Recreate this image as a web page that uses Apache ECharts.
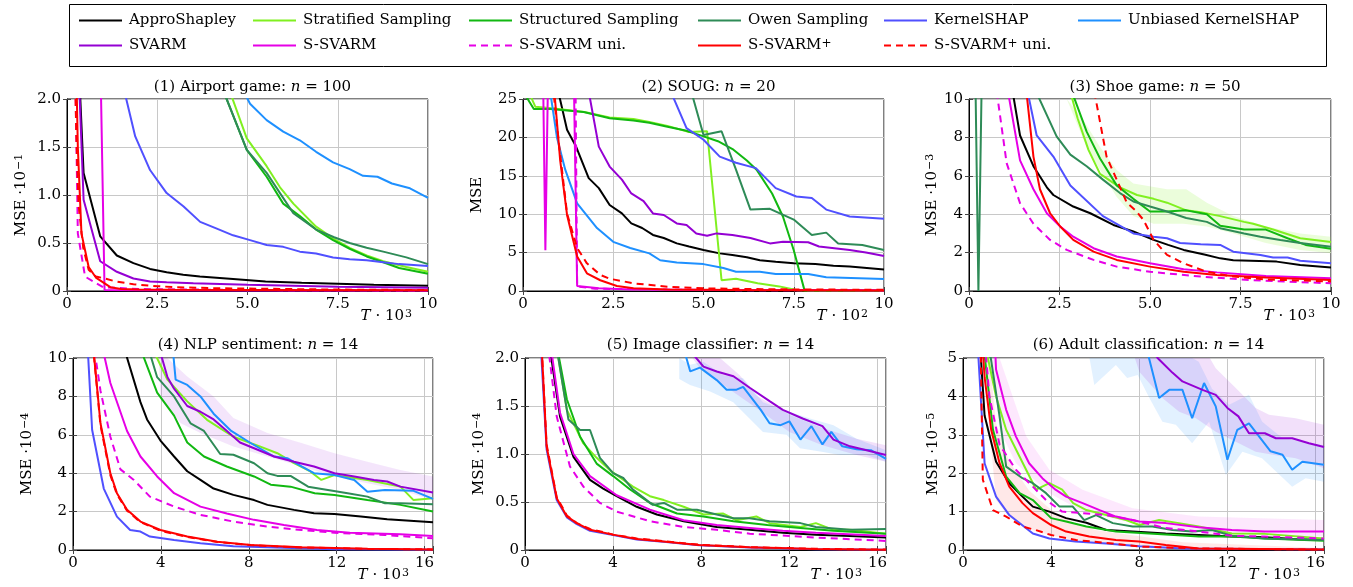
<!DOCTYPE html>
<html><head><meta charset="utf-8">
<script src="https://cdn.jsdelivr.net/npm/echarts@6/dist/echarts.min.js"></script>
<style>html,body{margin:0;padding:0;background:#fff}#c{width:1353px;height:587px}</style>
</head><body><div id="c"></div><script>
// ---------- series names / colours ----------
const seriesNames = ['ApproShapley','Stratified Sampling','Structured Sampling','Owen Sampling','KernelSHAP','Unbiased KernelSHAP','SVARM','S-SVARM','S-SVARM uni.','S-SVARM+','S-SVARM+ uni.'];
const seriesKeys  = ['appro','strat','struct','owen','kernel','unb','svarm','ssvarm','ssvarmUni','plus','plusUni'];
const seriesColors = ['#000000','#80f020','#11b811','#2e8b57','#5050ff','#1e90ff','#9400d3','#e600e6','#e600e6','#ff0000','#ff0000'];
const seriesDashed = [false,false,false,false,false,false,false,false,true,false,true];

// ---------- titles & tick labels ----------
const plotTitles = ['(1) Airport game: {i|n} = 100','(2) SOUG: {i|n} = 20','(3) Shoe game: {i|n} = 50','(4) NLP sentiment: {i|n} = 14','(5) Image classifier: {i|n} = 14','(6) Adult classification: {i|n} = 14'];
const yNames = ['MSE ·10{s|−1}','MSE','MSE ·10{s|−3}','MSE ·10{s|−4}','MSE ·10{s|−4}','MSE ·10{s|−5}'];
const xNames = ['{i|T} · 10{s|3}','{i|T} · 10{s|2}','{i|T} · 10{s|3}','{i|T} · 10{s|3}','{i|T} · 10{s|3}','{i|T} · 10{s|3}'];
const xTicksTop = [0,2.5,5,7.5,10];
const xLabelsTop = ['0','2.5','5.0','7.5','10'];
const xTicksBottom = [0,4,8,12,16];
const xLabelsBottom = ['0','4','8','12','16'];
const xMaxBottom = 16.384;
const yTicks1 = [0,0.5,1,1.5,2];   const yLabels1 = ['0','0.5','1.0','1.5','2.0'];
const yTicks2 = [0,5,10,15,20,25]; const yLabels2 = ['0','5','10','15','20','25'];
const yTicks3 = [0,2,4,6,8,10];    const yLabels3 = ['0','2','4','6','8','10'];
const yTicks4 = [0,2,4,6,8,10];    const yLabels4 = ['0','2','4','6','8','10'];
const yTicks5 = [0,0.5,1,1.5,2];   const yLabels5 = ['0','0.5','1.0','1.5','2.0'];
const yTicks6 = [0,1,2,3,4,5];     const yLabels6 = ['0','1','2','3','4','5'];

// ---------- (1) Airport game ----------
const p1_appro = [[0.25,3],[0.46,1.23],[0.92,0.57],[1.38,0.37],[1.84,0.29],[2.3,0.23],[2.76,0.195],[3.22,0.17],[3.68,0.15],[4.6,0.125],[5.5,0.1],[6.5,0.085],[7.5,0.075],[8.5,0.065],[10,0.055]];
const p1_strat = [[4.3,2.3],[4.98,1.59],[5.53,1.3],[5.9,1.08],[6.27,0.91],[6.9,0.67],[7.4,0.54],[7.83,0.45],[8.3,0.37],[8.76,0.31],[9.4,0.25],[10,0.2]];
const p1_struct = [[4.0,2.4],[4.98,1.47],[5.53,1.19],[5.99,0.91],[6.45,0.78],[6.9,0.64],[7.37,0.53],[7.83,0.44],[8.3,0.36],[8.76,0.3],[9.2,0.24],[10,0.18]];
const p1_owen = [[4.0,2.4],[4.98,1.47],[5.53,1.23],[5.9,1.02],[6.27,0.81],[6.9,0.64],[7.4,0.56],[7.83,0.5],[8.3,0.45],[8.76,0.41],[9.4,0.35],[10,0.28]];
const p1_kernel = [[1.45,2.3],[1.89,1.61],[2.3,1.26],[2.76,1.02],[3.23,0.88],[3.69,0.72],[4.15,0.65],[4.6,0.58],[5.07,0.53],[5.53,0.48],[5.99,0.46],[6.45,0.41],[6.9,0.39],[7.37,0.35],[7.83,0.33],[8.3,0.32],[8.76,0.3],[9.2,0.28],[10,0.26]];
const p1_unb = [[4.6,2.3],[5.07,1.95],[5.53,1.78],[5.99,1.66],[6.45,1.57],[6.9,1.45],[7.37,1.34],[7.83,1.27],[8.2,1.2],[8.6,1.19],[9.0,1.12],[9.5,1.07],[10,0.97]];
const p1_svarm = [[0.25,3],[0.46,0.95],[0.92,0.31],[1.38,0.2],[1.84,0.13],[2.3,0.1],[2.76,0.09],[3.5,0.08],[5,0.065],[7.5,0.045],[10,0.035]];
const p1_ssvarm = [[0.92,2.5],[1.04,0.01],[2,0.008],[5,0.006],[10,0.004]];
const p1_ssvarmUni = [[0.2,3],[0.3,0.6],[0.5,0.15],[1,0.04],[2,0.02],[5,0.01],[10,0.005]];
const p1_plus = [[0.22,3],[0.3,1.5],[0.4,0.6],[0.6,0.25],[0.8,0.14],[1,0.09],[1.2,0.04],[1.5,0.02],[2,0.015],[3,0.012],[5,0.01],[10,0.008]];
const p1_plusUni = [[0.18,3],[0.26,1.6],[0.32,0.9],[0.45,0.45],[0.6,0.22],[0.8,0.15],[1.0,0.135],[1.34,0.1],[1.84,0.07],[2.5,0.05],[3,0.04],[4,0.03],[5,0.025],[7.5,0.015],[10,0.01]];

// ---------- (2) SOUG ----------
const p2_appro = [[1.0,25.5],[1.22,21],[1.47,18.8],[1.82,14.7],[2.1,13.4],[2.4,11.2],[2.74,10.1],[3.0,8.8],[3.3,8.2],[3.6,7.3],[3.9,6.9],[4.26,6.2],[4.6,5.8],[5.0,5.35],[5.45,4.9],[5.8,4.7],[6.2,4.4],[6.56,4.0],[7.0,3.8],[7.5,3.6],[8.1,3.5],[8.6,3.3],[9.05,3.2],[10,2.8]];
const p2_strat = [[0.2,25.5],[0.34,24],[0.8,23.8],[1.7,23.3],[2.4,22.6],[3.06,22.4],[3.5,22.0],[4.0,21.5],[4.6,20.7],[5.1,20.8],[5.5,1.4],[5.9,1.6],[6.5,1.0],[7.1,0.6],[7.6,0.1],[8,0.05],[10,0.05]];
const p2_struct = [[0,26],[0.3,23.7],[0.76,23.7],[1.68,23.3],[2.4,22.5],[3.06,22.2],[3.5,21.9],[4.0,21.4],[4.5,20.9],[4.9,20.3],[5.4,19.5],[5.83,18.4],[6.2,17.0],[6.47,15.8],[6.9,12.7],[7.2,9.7],[7.5,5.3],[7.8,0.05],[10,0.05]];
const p2_owen = [[4.6,27],[5.0,20.3],[5.5,20.8],[5.9,15.8],[6.3,10.6],[6.84,10.7],[7.5,9.3],[8.0,7.3],[8.4,7.6],[8.73,6.2],[9.4,6.0],[10,5.35]];
const p2_kernel = [[4.0,27],[4.53,21.2],[5.0,19.7],[5.45,17.5],[5.9,16.7],[6.45,16.0],[7.0,13.4],[7.57,12.3],[8.0,12.1],[8.4,10.6],[9.05,9.7],[10,9.4]];
const p2_unb = [[0.72,27],[0.94,20],[1.17,15.8],[1.5,11.4],[2.05,8.2],[2.5,6.4],[2.97,5.6],[3.5,4.9],[3.8,4.0],[4.26,3.7],[5.0,3.5],[5.55,3.0],[5.9,2.5],[6.56,2.5],[7.0,2.2],[7.9,2.2],[8.4,1.8],[10,1.57]];
const p2_svarm = [[1.78,27],[2.1,18.8],[2.4,16.2],[2.74,14.5],[3.0,12.7],[3.34,11.7],[3.6,10.1],[3.9,9.9],[4.26,8.8],[4.53,8.6],[4.8,7.5],[5.1,7.2],[5.36,7.5],[5.8,7.3],[6.3,6.9],[6.84,6.2],[7.2,6.4],[7.9,6.35],[8.2,5.8],[9.05,5.35],[9.5,5.0],[10,4.55]];
const p2_ssvarm = [[0.55,30],[0.62,5.3],[0.7,30],[1.4,30],[1.5,0.65],[2.1,0.35],[3,0.2],[5,0.15],[10,0.1]];
const p2_ssvarmUni = [[1.45,30],[1.5,0.6],[2,0.3],[5,0.12],[10,0.08]];
const p2_plus = [[0.85,27],[1.03,17],[1.22,9.9],[1.5,4.5],[1.77,2.3],[2.14,1.4],[2.6,0.65],[3.06,0.35],[4,0.2],[6,0.12],[10,0.08]];
const p2_plusUni = [[0.82,27],[1.0,19],[1.22,10.1],[1.5,5.6],[1.77,3.6],[2.14,2.1],[2.4,1.6],[3.06,1.0],[4.0,0.55],[5.0,0.35],[7,0.22],[10,0.15]];

// ---------- (3) Shoe game ----------
const p3_appro = [[1.15,11],[1.41,8.1],[1.78,6.5],[2.15,5.4],[2.33,5.0],[2.88,4.4],[3.35,4.05],[3.99,3.44],[4.54,3.1],[5.1,2.66],[5.5,2.4],[5.93,2.14],[6.5,1.9],[6.94,1.7],[7.3,1.6],[8.5,1.53],[9.15,1.36],[10,1.23]];
const p3_strat = [[2.78,10.5],[3.0,9.0],[3.3,7.35],[3.62,6.1],[4.17,5.4],[4.64,5.0],[5.1,4.8],[5.47,4.6],[6.0,4.2],[6.4,4.1],[6.94,3.9],[7.6,3.6],[7.85,3.5],[8.4,3.2],[9.15,2.75],[10,2.55]];
const p3_struct = [[2.8,10.6],[3.25,8.3],[3.62,6.9],[4.08,5.5],[4.54,4.8],[5.0,4.14],[5.47,4.14],[6.0,4.2],[6.57,4.0],[6.94,3.4],[7.6,3.2],[8.2,3.2],[8.8,2.75],[9.3,2.4],[10,2.2]];
const p3_owen = [[0.17,12],[0.26,0],[0.36,12],[1.8,10.6],[2.42,8.05],[2.8,7.1],[3.25,6.5],[3.7,5.8],[4.17,5.1],[4.54,4.66],[5.0,4.4],[5.47,4.14],[6.0,3.8],[6.57,3.6],[6.94,3.27],[7.6,3.0],[8.05,2.83],[8.6,2.66],[9.15,2.5],[10,2.3]];
const p3_kernel = [[1.55,11],[1.87,8.1],[2.33,7.0],[2.8,5.5],[3.7,3.9],[4.54,3.0],[5.1,2.83],[5.47,2.75],[5.83,2.5],[6.4,2.43],[6.94,2.4],[7.3,2.05],[8.05,1.88],[8.4,1.74],[8.8,1.74],[9.15,1.58],[10,1.44]];
const p3_ssvarm = [[1.02,11],[1.41,6.8],[1.78,5.3],[2.15,4.05],[2.52,3.36],[2.88,2.83],[3.44,2.23],[4.08,1.8],[5.0,1.44],[5.93,1.13],[6.85,0.97],[8.2,0.78],[10,0.66]];
const p3_ssvarmUni = [[0.72,11],[1.04,6.66],[1.41,4.57],[1.78,3.5],[2.24,2.66],[2.7,2.14],[3.44,1.62],[4.08,1.27],[5.0,1.0],[6.4,0.75],[7.77,0.57],[10,0.4]];
const p3_plus = [[1.55,11],[1.78,7.0],[1.96,5.3],[2.24,4.05],[2.52,3.36],[2.88,2.66],[3.44,2.05],[4.08,1.62],[5.0,1.27],[5.93,1.0],[6.85,0.83],[8.2,0.7],[10,0.57]];
const p3_plusUni = [[3.4,11],[3.8,7.0],[4.08,5.8],[4.36,4.6],[4.6,4.2],[4.82,3.7],[5.1,2.66],[5.47,1.88],[5.93,1.44],[6.57,1.0],[7.3,0.75],[8.2,0.6],[10,0.5]];

// ---------- (4) NLP sentiment ----------
const p4_appro = [[2.2,11],[3.07,7.7],[3.37,6.8],[3.98,5.7],[4.6,4.87],[5.2,4.1],[5.8,3.65],[6.4,3.2],[7.3,2.87],[8.24,2.6],[8.85,2.35],[10.06,2.09],[10.97,1.91],[11.9,1.88],[13.1,1.74],[14.3,1.6],[16.384,1.44]];
const p4_strat = [[3.4,11],[4.3,8.87],[5.2,7.74],[6.1,6.78],[7.3,5.9],[8.5,5.4],[9.3,5.04],[10.06,4.52],[10.8,4.09],[11.3,3.65],[11.9,3.9],[13.4,3.65],[14.9,3.3],[15.5,2.6],[16.384,2.7]];
const p4_struct = [[2.9,11],[3.83,8.2],[4.6,7.0],[5.2,5.6],[5.96,4.87],[7.0,4.35],[8.24,3.83],[9.0,3.4],[9.9,3.3],[11.0,2.96],[11.9,2.87],[13.4,2.6],[14.9,2.35],[16.384,2.0]];
const p4_owen = [[3.3,11],[3.83,9.0],[4.6,8.0],[5.35,6.6],[5.96,6.2],[6.7,5.0],[7.3,4.96],[8.24,4.52],[8.85,4.0],[9.3,3.86],[9.9,3.86],[10.7,3.3],[11.6,3.13],[12.5,2.96],[13.4,2.78],[14.2,2.43],[14.9,2.43],[16.384,2.38]];
const p4_kernel = [[0.6,12],[0.87,6.26],[1.4,3.2],[2.0,1.74],[2.6,1.04],[3.07,0.96],[3.5,0.7],[4.6,0.52],[5.8,0.35],[7.3,0.2],[8.85,0.14],[11.9,0.04],[16.384,0.01]];
const p4_unb = [[4.5,11],[4.67,8.87],[5.2,8.6],[5.8,8.0],[6.4,7.1],[7.2,6.2],[8.1,5.56],[9.15,4.87],[9.75,4.78],[10.4,4.35],[10.97,4.0],[11.9,3.9],[12.8,3.65],[13.4,3.04],[14.2,3.13],[15.5,3.08],[16.384,2.66]];
const p4_svarm = [[3.8,11],[4.3,9.0],[4.6,8.4],[5.2,7.5],[5.8,7.2],[6.4,6.8],[7.2,6.0],[7.6,5.6],[8.24,5.3],[9.15,4.87],[10.06,4.6],[10.97,4.35],[11.9,4.0],[12.8,3.83],[13.7,3.65],[14.3,3.57],[14.9,3.3],[16.384,3.0]];
const p4_ssvarm = [[1.25,11],[1.7,8.7],[2.46,6.2],[3.07,4.87],[3.83,3.83],[4.6,2.96],[5.8,2.26],[7.0,1.9],[8.24,1.57],[9.6,1.3],[11.1,1.04],[12.6,0.9],[14.9,0.82],[16.384,0.73]];
const p4_ssvarmUni = [[0.9,11],[1.25,8.3],[1.7,5.9],[2.16,4.2],[2.77,3.65],[3.5,2.78],[4.6,2.26],[5.8,1.83],[7.3,1.48],[8.85,1.22],[10.4,1.04],[11.9,0.9],[14.2,0.78],[16.384,0.61]];
const p4_plus = [[0.8,12],[1.25,6.6],[1.7,4.0],[2.0,2.96],[2.46,2.1],[3.07,1.48],[3.98,1.04],[5.2,0.7],[6.57,0.43],[8.1,0.26],[10.4,0.14],[13.4,0.07],[16.384,0.03]];
const p4_plusUni = [[0.8,12],[1.25,6.5],[1.7,3.9],[2.0,2.9],[2.46,2.05],[3.07,1.45],[3.98,1.0],[5.2,0.68],[6.57,0.42],[8.1,0.25],[10.4,0.13],[13.4,0.06],[16.384,0.03]];

// ---------- (5) Image classifier ----------
const p5_appro = [[1.0,2.3],[1.59,1.39],[2.2,0.97],[2.95,0.73],[3.55,0.64],[4.16,0.56],[5.07,0.45],[5.98,0.37],[7.2,0.3],[8.7,0.24],[10.2,0.21],[11.7,0.18],[13.2,0.16],[14.75,0.146],[16.384,0.13]];
const p5_strat = [[1.3,2.3],[1.9,1.46],[2.65,1.11],[3.25,0.96],[3.86,0.83],[4.9,0.66],[5.67,0.56],[6.3,0.52],[7.2,0.45],[8.1,0.37],[9.0,0.38],[9.6,0.31],[10.5,0.35],[11.1,0.28],[12.5,0.24],[13.2,0.28],[14.0,0.21],[14.75,0.21],[16.384,0.17]];
const p5_struct = [[1.3,2.3],[1.9,1.57],[2.5,1.18],[3.25,0.9],[4.0,0.77],[4.77,0.63],[5.67,0.49],[6.9,0.38],[8.1,0.35],[9.46,0.3],[11.0,0.26],[12.5,0.23],[14.0,0.2],[16.384,0.17]];
const p5_owen = [[1.3,2.3],[1.97,1.36],[2.5,1.25],[2.95,1.25],[3.4,0.96],[4.0,0.8],[4.46,0.75],[4.9,0.63],[5.8,0.47],[6.3,0.49],[6.9,0.42],[7.8,0.42],[8.7,0.37],[9.46,0.33],[10.2,0.33],[11.1,0.3],[12.5,0.28],[13.2,0.24],[14.75,0.21],[16.384,0.22]];
const p5_kernel = [[0.6,2.6],[0.98,1.05],[1.44,0.52],[1.9,0.34],[2.35,0.27],[2.95,0.2],[4.0,0.155],[5.07,0.11],[6.4,0.083],[7.9,0.05],[10.2,0.026],[13.2,0.009],[16.384,0.002]];
const p5_unb = [[7.2,2.1],[7.5,1.86],[7.94,1.9],[8.7,1.77],[9.15,1.67],[9.6,1.67],[9.9,1.7],[10.7,1.46],[11.1,1.32],[11.6,1.3],[12.0,1.34],[12.5,1.15],[13.0,1.29],[13.5,1.1],[13.9,1.23],[14.4,1.08],[15.05,1.05],[15.7,1.04],[16.384,0.95]];
const p5_svarm = [[7.4,2.1],[8.1,1.91],[8.7,1.86],[9.46,1.81],[10.2,1.69],[11.1,1.55],[11.7,1.46],[12.6,1.37],[13.5,1.29],[14.0,1.15],[14.75,1.08],[15.5,1.04],[16.384,0.99]];
const p5_ssvarm = [[1.0,2.4],[1.59,1.43],[2.2,1.0],[2.95,0.77],[4.16,0.57],[5.67,0.42],[7.2,0.31],[8.7,0.26],[10.2,0.23],[11.7,0.2],[13.2,0.18],[16.384,0.146]];
const p5_ssvarmUni = [[0.9,2.4],[1.44,1.39],[2.04,0.87],[2.65,0.66],[3.4,0.49],[4.16,0.4],[5.67,0.3],[7.2,0.24],[8.7,0.21],[10.2,0.17],[11.7,0.15],[13.2,0.13],[16.384,0.094]];
const p5_plus = [[0.65,2.6],[0.98,1.08],[1.44,0.54],[1.9,0.35],[2.35,0.28],[2.95,0.21],[4.0,0.16],[5.07,0.115],[6.4,0.087],[7.9,0.052],[10.2,0.028],[13.2,0.01],[16.384,0.003]];
const p5_plusUni = [[0.65,2.6],[0.98,1.1],[1.44,0.55],[1.9,0.36],[2.35,0.28],[2.95,0.22],[4.0,0.16],[5.07,0.12],[6.4,0.09],[7.9,0.055],[10.2,0.03],[13.2,0.012],[16.384,0.004]];

// ---------- (6) Adult classification ----------
const p6_appro = [[0.7,6],[0.98,3.5],[1.5,2.3],[2.1,1.74],[2.7,1.39],[3.17,1.13],[3.92,1.0],[4.68,0.83],[5.6,0.71],[6.5,0.52],[7.7,0.48],[9.2,0.43],[10.7,0.39],[12.2,0.35],[13.7,0.33],[15.2,0.28],[16.384,0.26]];
const p6_strat = [[0.9,6],[1.13,5],[1.5,4.0],[1.96,3.13],[2.57,2.43],[3.32,1.57],[3.92,1.74],[4.5,1.57],[5.0,1.22],[5.6,1.04],[6.5,0.91],[7.4,0.78],[8.0,0.65],[8.9,0.78],[9.8,0.7],[10.7,0.61],[12.2,0.43],[13.7,0.42],[16.384,0.3]];
const p6_struct = [[0.8,6],[1.36,3.13],[1.96,1.91],[2.57,1.48],[3.17,1.3],[4.0,0.83],[4.68,0.74],[5.6,0.61],[6.94,0.48],[8.45,0.43],[10.7,0.35],[12.2,0.35],[13.7,0.3],[16.384,0.24]];
const p6_owen = [[1.0,6],[1.66,3.48],[1.96,2.17],[2.7,1.87],[3.17,1.74],[3.77,1.48],[4.38,1.13],[4.98,1.13],[5.5,0.78],[6.04,0.91],[6.8,0.7],[7.7,0.61],[8.6,0.61],[9.5,0.52],[10.4,0.48],[11.3,0.52],[12.2,0.37],[13.7,0.3],[16.384,0.26]];
const p6_kernel = [[0.6,6],[0.98,2.26],[1.5,1.39],[2.1,0.91],[3.17,0.43],[3.92,0.3],[5.1,0.22],[6.5,0.17],[8.0,0.1],[10.0,0.04],[16.384,0.01]];
const p6_unb = [[8.0,6],[8.9,3.96],[9.36,4.17],[9.96,4.17],[10.4,3.43],[10.94,4.35],[11.47,3.74],[12.0,2.35],[12.45,3.13],[12.98,3.3],[13.96,2.57],[14.5,2.48],[14.94,2.09],[15.4,2.3],[16.384,2.22]];
const p6_svarm = [[8.5,5.3],[8.83,5.0],[9.5,4.62],[9.96,4.39],[10.87,4.17],[11.47,4.04],[12.0,3.7],[12.5,3.48],[12.98,3.04],[13.7,3.04],[14.2,2.91],[14.94,2.91],[15.7,2.78],[16.384,2.68]];
const p6_ssvarm = [[1.4,6],[1.5,4.7],[1.96,3.65],[2.4,2.96],[3.0,2.26],[3.6,1.87],[4.2,1.57],[4.68,1.39],[5.43,1.22],[6.2,1.04],[6.94,0.87],[8.0,0.74],[9.2,0.7],[10.7,0.59],[12.2,0.52],[13.7,0.48],[16.384,0.48]];
const p6_ssvarmUni = [[0.9,6],[1.2,4],[1.66,2.74],[2.4,2.09],[3.17,1.65],[3.77,1.3],[4.5,1.0],[5.43,0.96],[6.5,0.91],[7.7,0.78],[9.2,0.57],[10.7,0.48],[12.2,0.37],[13.7,0.35],[16.384,0.3]];
const p6_plus = [[0.8,6],[0.98,4.5],[1.28,3.13],[1.66,2.26],[2.1,1.65],[2.7,1.22],[3.17,0.96],[4.0,0.65],[4.68,0.48],[5.73,0.35],[6.94,0.26],[8.0,0.22],[9.2,0.13],[10.7,0.04],[16.384,0.01]];
const p6_plusUni = [[0.78,6],[0.9,1.83],[1.36,1.04],[1.96,0.87],[2.7,0.61],[3.3,0.52],[4.0,0.39],[5.13,0.26],[6.8,0.17],[8.0,0.09],[10.7,0.04],[16.384,0.01]];

// ---------- confidence bands (lower / upper edges) ----------
const p3_stratLo = [[3.25,7.5],[3.62,6.3],[4.08,4.9],[4.54,3.9],[5.1,3.5],[5.93,3.5],[6.57,3.36],[7.3,3.0],[8.2,2.5],[9.15,2.14],[10,1.97]];
const p3_stratHi = [[2.7,10],[3.16,8.9],[3.62,7.5],[4.08,6.3],[4.54,5.6],[5.47,5.3],[6.0,5.3],[6.57,4.6],[7.3,3.9],[8.2,3.36],[9.15,3.0],[10,2.83]];
const p4_svarmLo = [[3.9,10],[3.98,8.0],[4.9,6.6],[5.8,6.09],[7.3,5.39],[8.85,4.87],[10.4,4.35],[11.9,3.83],[13.4,3.48],[14.9,3.13],[16.384,2.6]];
const p4_svarmHi = [[3.9,10],[4.29,10],[5.2,9.04],[6.4,8.0],[7.3,6.87],[8.85,6.09],[10.4,5.57],[11.9,5.04],[13.4,4.6],[14.9,4.17],[16.384,3.83]];
const p5_unbLo = [[7.0,1.78],[7.49,1.72],[8.4,1.65],[9.45,1.54],[10.8,1.23],[11.87,1.2],[12.48,1.06],[13.53,1.02],[14.28,0.99],[15.5,0.99],[16.384,0.92]];
const p5_unbHi = [[7.0,2.0],[7.49,1.93],[8.09,1.96],[9.0,1.82],[9.9,1.79],[10.8,1.54],[12.0,1.44],[12.93,1.37],[14.0,1.3],[15.05,1.16],[16.384,1.04]];
const p5_svarmLo = [[7.6,2.0],[7.94,1.89],[9.0,1.72],[10.5,1.48],[12.0,1.23],[13.5,1.09],[15.05,0.99],[16.384,0.92]];
const p5_svarmHi = [[7.6,2.0],[8.85,2.0],[9.75,1.82],[10.5,1.61],[12.0,1.41],[13.5,1.27],[15.05,1.16],[16.384,1.09]];
const p6_unbLo = [[5.74,5],[5.96,4.3],[6.94,4.82],[7.45,4.48],[7.93,4.56],[8.46,3.96],[9.05,3.34],[9.66,3.26],[10.4,2.78],[11.17,3.34],[11.93,1.95],[12.68,2.56],[13.57,2.39],[14.94,1.65],[15.55,1.87],[16.384,1.78]];
const p6_unbHi = [[5.74,5],[10.4,5],[10.7,4.9],[11.3,4.2],[12.08,3.78],[12.98,4.04],[13.58,3.34],[14.48,2.92],[15.4,2.82],[16.384,2.73]];
const p6_svarmLo = [[7.8,5],[8.0,4.64],[9.06,3.95],[9.81,3.6],[10.57,3.43],[11.47,3.08],[12.38,2.82],[13.28,2.56],[14.19,2.47],[15.1,2.39],[16.384,2.13]];
const p6_svarmHi = [[7.8,5],[11.2,5],[11.47,4.73],[12.38,4.22],[13.28,3.7],[13.89,3.52],[15.1,3.43],[16.384,3.26]];
const p6_ssvarmLo = [[1.3,5],[1.66,3.13],[2.4,2.26],[3.92,1.48],[5.43,1.0],[7.7,0.7],[10.7,0.43],[16.384,0.35]];
const p6_ssvarmHi = [[1.3,5],[1.66,5],[2.87,2.96],[3.92,2.09],[5.43,1.57],[7.7,1.09],[10.7,0.87],[16.384,0.78]];
const p6_plusLo = [[0.9,5],[1.5,1.3],[2.1,0.85],[3.0,0.55],[4.0,0.38],[5.0,0.27],[6.0,0.19],[8.0,0.1],[10.0,0.03],[16.384,0.0]];
const p6_plusHi = [[0.9,5],[1.2,5],[1.5,3.3],[2.1,2.3],[3.0,1.55],[4.0,1.05],[5.0,0.72],[6.0,0.52],[8.0,0.36],[10.0,0.2],[16.384,0.05]];

const bandDefs = [
  {plot:2, color:'#80f020', opacity:0.16, lo:p3_stratLo, hi:p3_stratHi},
  {plot:3, color:'#9400d3', opacity:0.10, lo:p4_svarmLo, hi:p4_svarmHi},
  {plot:4, color:'#1e90ff', opacity:0.14, lo:p5_unbLo, hi:p5_unbHi},
  {plot:4, color:'#9400d3', opacity:0.12, lo:p5_svarmLo, hi:p5_svarmHi},
  {plot:5, color:'#1e90ff', opacity:0.13, lo:p6_unbLo, hi:p6_unbHi},
  {plot:5, color:'#9400d3', opacity:0.12, lo:p6_svarmLo, hi:p6_svarmHi},
  {plot:5, color:'#e600e6', opacity:0.09, lo:p6_ssvarmLo, hi:p6_ssvarmHi},
  {plot:5, color:'#ff0000', opacity:0.09, lo:p6_plusLo, hi:p6_plusHi}
];

// ---------- assemble ----------
const plotData = [
  {appro:p1_appro,strat:p1_strat,struct:p1_struct,owen:p1_owen,kernel:p1_kernel,unb:p1_unb,svarm:p1_svarm,ssvarm:p1_ssvarm,ssvarmUni:p1_ssvarmUni,plus:p1_plus,plusUni:p1_plusUni},
  {appro:p2_appro,strat:p2_strat,struct:p2_struct,owen:p2_owen,kernel:p2_kernel,unb:p2_unb,svarm:p2_svarm,ssvarm:p2_ssvarm,ssvarmUni:p2_ssvarmUni,plus:p2_plus,plusUni:p2_plusUni},
  {appro:p3_appro,strat:p3_strat,struct:p3_struct,owen:p3_owen,kernel:p3_kernel,ssvarm:p3_ssvarm,ssvarmUni:p3_ssvarmUni,plus:p3_plus,plusUni:p3_plusUni},
  {appro:p4_appro,strat:p4_strat,struct:p4_struct,owen:p4_owen,kernel:p4_kernel,unb:p4_unb,svarm:p4_svarm,ssvarm:p4_ssvarm,ssvarmUni:p4_ssvarmUni,plus:p4_plus,plusUni:p4_plusUni},
  {appro:p5_appro,strat:p5_strat,struct:p5_struct,owen:p5_owen,kernel:p5_kernel,unb:p5_unb,svarm:p5_svarm,ssvarm:p5_ssvarm,ssvarmUni:p5_ssvarmUni,plus:p5_plus,plusUni:p5_plusUni},
  {appro:p6_appro,strat:p6_strat,struct:p6_struct,owen:p6_owen,kernel:p6_kernel,unb:p6_unb,svarm:p6_svarm,ssvarm:p6_ssvarm,ssvarmUni:p6_ssvarmUni,plus:p6_plus,plusUni:p6_plusUni}
];
const yTickSets = [[yTicks1,yLabels1],[yTicks2,yLabels2],[yTicks3,yLabels3],[yTicks4,yLabels4],[yTicks5,yLabels5],[yTicks6,yLabels6]];

// layout (pixels)
const gridBoxes = [
  {left:67, top:99, width:361, height:192},
  {left:523,top:99, width:361, height:192},
  {left:969,top:99, width:362, height:192},
  {left:73, top:358,width:360, height:192},
  {left:525,top:358,width:361, height:192},
  {left:963,top:358,width:361, height:192}
];
const yNameGaps = [38,38,22,38,38,22];
const titleTops = [75,75,75,333,333,333];

const FONT = 'DejaVu Serif';
const FS = 15;
function lab(ticks, labels){
  return function(v){
    for (let i=0;i<ticks.length;i++) if (Math.abs(v-ticks[i])<1e-6) return labels[i];
    return '';
  };
}
const richBase = {
  i:{fontStyle:'italic',fontFamily:FONT,fontSize:FS,color:'#000'},
  s:{fontFamily:FONT,fontSize:11,color:'#000',verticalAlign:'top',lineHeight:12,padding:[0,0,0,1]}
};
const tickStyle = {show:true,inside:true,length:4,lineStyle:{color:'#444',width:1}};

const grids=[], xAxes=[], yAxes=[], titles=[], series=[];
gridBoxes.forEach((g,p)=>{
  grids.push(Object.assign({show:true,borderColor:'#000',borderWidth:1,backgroundColor:'transparent',containLabel:false}, g));
  titles.push({
    text: plotTitles[p], left: g.left + g.width/2, top: titleTops[p], textAlign:'center',
    textStyle:{fontFamily:FONT,fontSize:FS,fontWeight:'normal',color:'#000',rich:richBase}
  });
});
// main axes (index p) then mirror axes (index 6+p)
gridBoxes.forEach((g,p)=>{
  const top = p<3;
  const xt = top ? xTicksTop : xTicksBottom;
  const xl = top ? xLabelsTop : xLabelsBottom;
  xAxes.push({
    type:'value', gridIndex:p, min:xt[0], max: top ? xt[xt.length-1] : xMaxBottom, interval: xt[1]-xt[0],
    name: xNames[p], nameLocation:'end', nameGap: top ? -16 : -24,
    nameTextStyle:{fontFamily:FONT,fontSize:FS,color:'#000',align:'right',verticalAlign:'top',padding:[18,0,0,0],rich:richBase},
    axisLine:{show:true,lineStyle:{color:'#000',width:1}},
    axisTick:tickStyle,
    axisLabel:{fontFamily:FONT,fontSize:FS,color:'#000',margin:6,formatter:lab(xt,xl)},
    splitLine:{show:true,lineStyle:{color:'#c8c8c8',width:1}}
  });
  const [yt,yl] = yTickSets[p];
  yAxes.push({
    type:'value', gridIndex:p, min:yt[0], max:yt[yt.length-1], interval:yt[1]-yt[0],
    name: yNames[p], nameLocation:'middle', nameRotate:90, nameGap:yNameGaps[p],
    nameTextStyle:{fontFamily:FONT,fontSize:FS,color:'#000',rich:richBase},
    axisLine:{show:true,lineStyle:{color:'#000',width:1}},
    axisTick:tickStyle,
    axisLabel:{fontFamily:FONT,fontSize:FS,color:'#000',margin:6,formatter:lab(yt,yl)},
    splitLine:{show:true,lineStyle:{color:'#c8c8c8',width:1}}
  });
});
gridBoxes.forEach((g,p)=>{
  const top = p<3;
  const xt = top ? xTicksTop : xTicksBottom;
  const [yt] = yTickSets[p];
  xAxes.push({type:'value', gridIndex:p, position:'top', min:xt[0], max: top ? xt[xt.length-1] : xMaxBottom, interval: xt[1]-xt[0],
    axisLine:{show:false}, axisTick:tickStyle, axisLabel:{show:false}, splitLine:{show:false}});
  yAxes.push({type:'value', gridIndex:p, position:'right', min:yt[0], max:yt[yt.length-1], interval:yt[1]-yt[0],
    axisLine:{show:false}, axisTick:tickStyle, axisLabel:{show:false}, splitLine:{show:false}});
});

// bands (custom polygons through the axes' scales)
bandDefs.forEach(b=>{
  const poly = b.hi.concat(b.lo.slice().reverse());
  series.push({
    type:'custom', xAxisIndex:b.plot, yAxisIndex:b.plot, data:[0], silent:true, z:1, animation:false,
    renderItem:(params, api)=>({type:'polygon', shape:{points: poly.map(pt=>api.coord(pt))},
      style:{fill:b.color, opacity:b.opacity, stroke:'none'}})
  });
});

gridBoxes.forEach((g,p)=>{
  seriesKeys.forEach((k,si)=>{
    const d = plotData[p][k];
    if (!d) return;
    series.push({
      type:'line', name: seriesNames[si], xAxisIndex:p, yAxisIndex:p, data:d,
      symbol:'none', showSymbol:false, clip:true, animation:false, z: 2+si*0.01,
      lineStyle:{color:seriesColors[si], width:2, type: seriesDashed[si] ? [7,5] : 'solid'},
      itemStyle:{color:seriesColors[si]}
    });
  });
});

// legends positioned as a table
const legendCols = [78,252,468,697,883,1077];
const legendRows = [13,38];
const legendCells = [[0,0],[0,1],[0,2],[0,3],[0,4],[0,5],[1,0],[1,1],[1,2],[1,3],[1,4]];
const legends = seriesNames.map((n,i)=>({
  data:[n], left: legendCols[legendCells[i][1]], top: legendRows[legendCells[i][0]],
  padding:0, itemWidth:43, itemHeight:14, itemGap:0, selectedMode:false,
  itemStyle:{opacity:0},
  textStyle:{fontFamily:FONT,fontSize:FS,color:'#000',padding:[0,0,0,2],rich:{s:{fontFamily:FONT,fontSize:12,color:'#000',verticalAlign:'top',lineHeight:10}}},
  formatter: nm => nm.replace('+','{s|+}')
}));

const chart = echarts.init(document.getElementById('c'), null, {renderer:'canvas'});
chart.setOption({
  backgroundColor:'#fff',
  animation:false,
  title:titles, grid:grids, xAxis:xAxes, yAxis:yAxes, legend:legends, series:series,
  graphic:[{type:'rect', shape:{x:69.5,y:4.5,width:1257,height:62}, style:{fill:'none',stroke:'#000',lineWidth:1}, z:100}]
});
</script></body></html>
